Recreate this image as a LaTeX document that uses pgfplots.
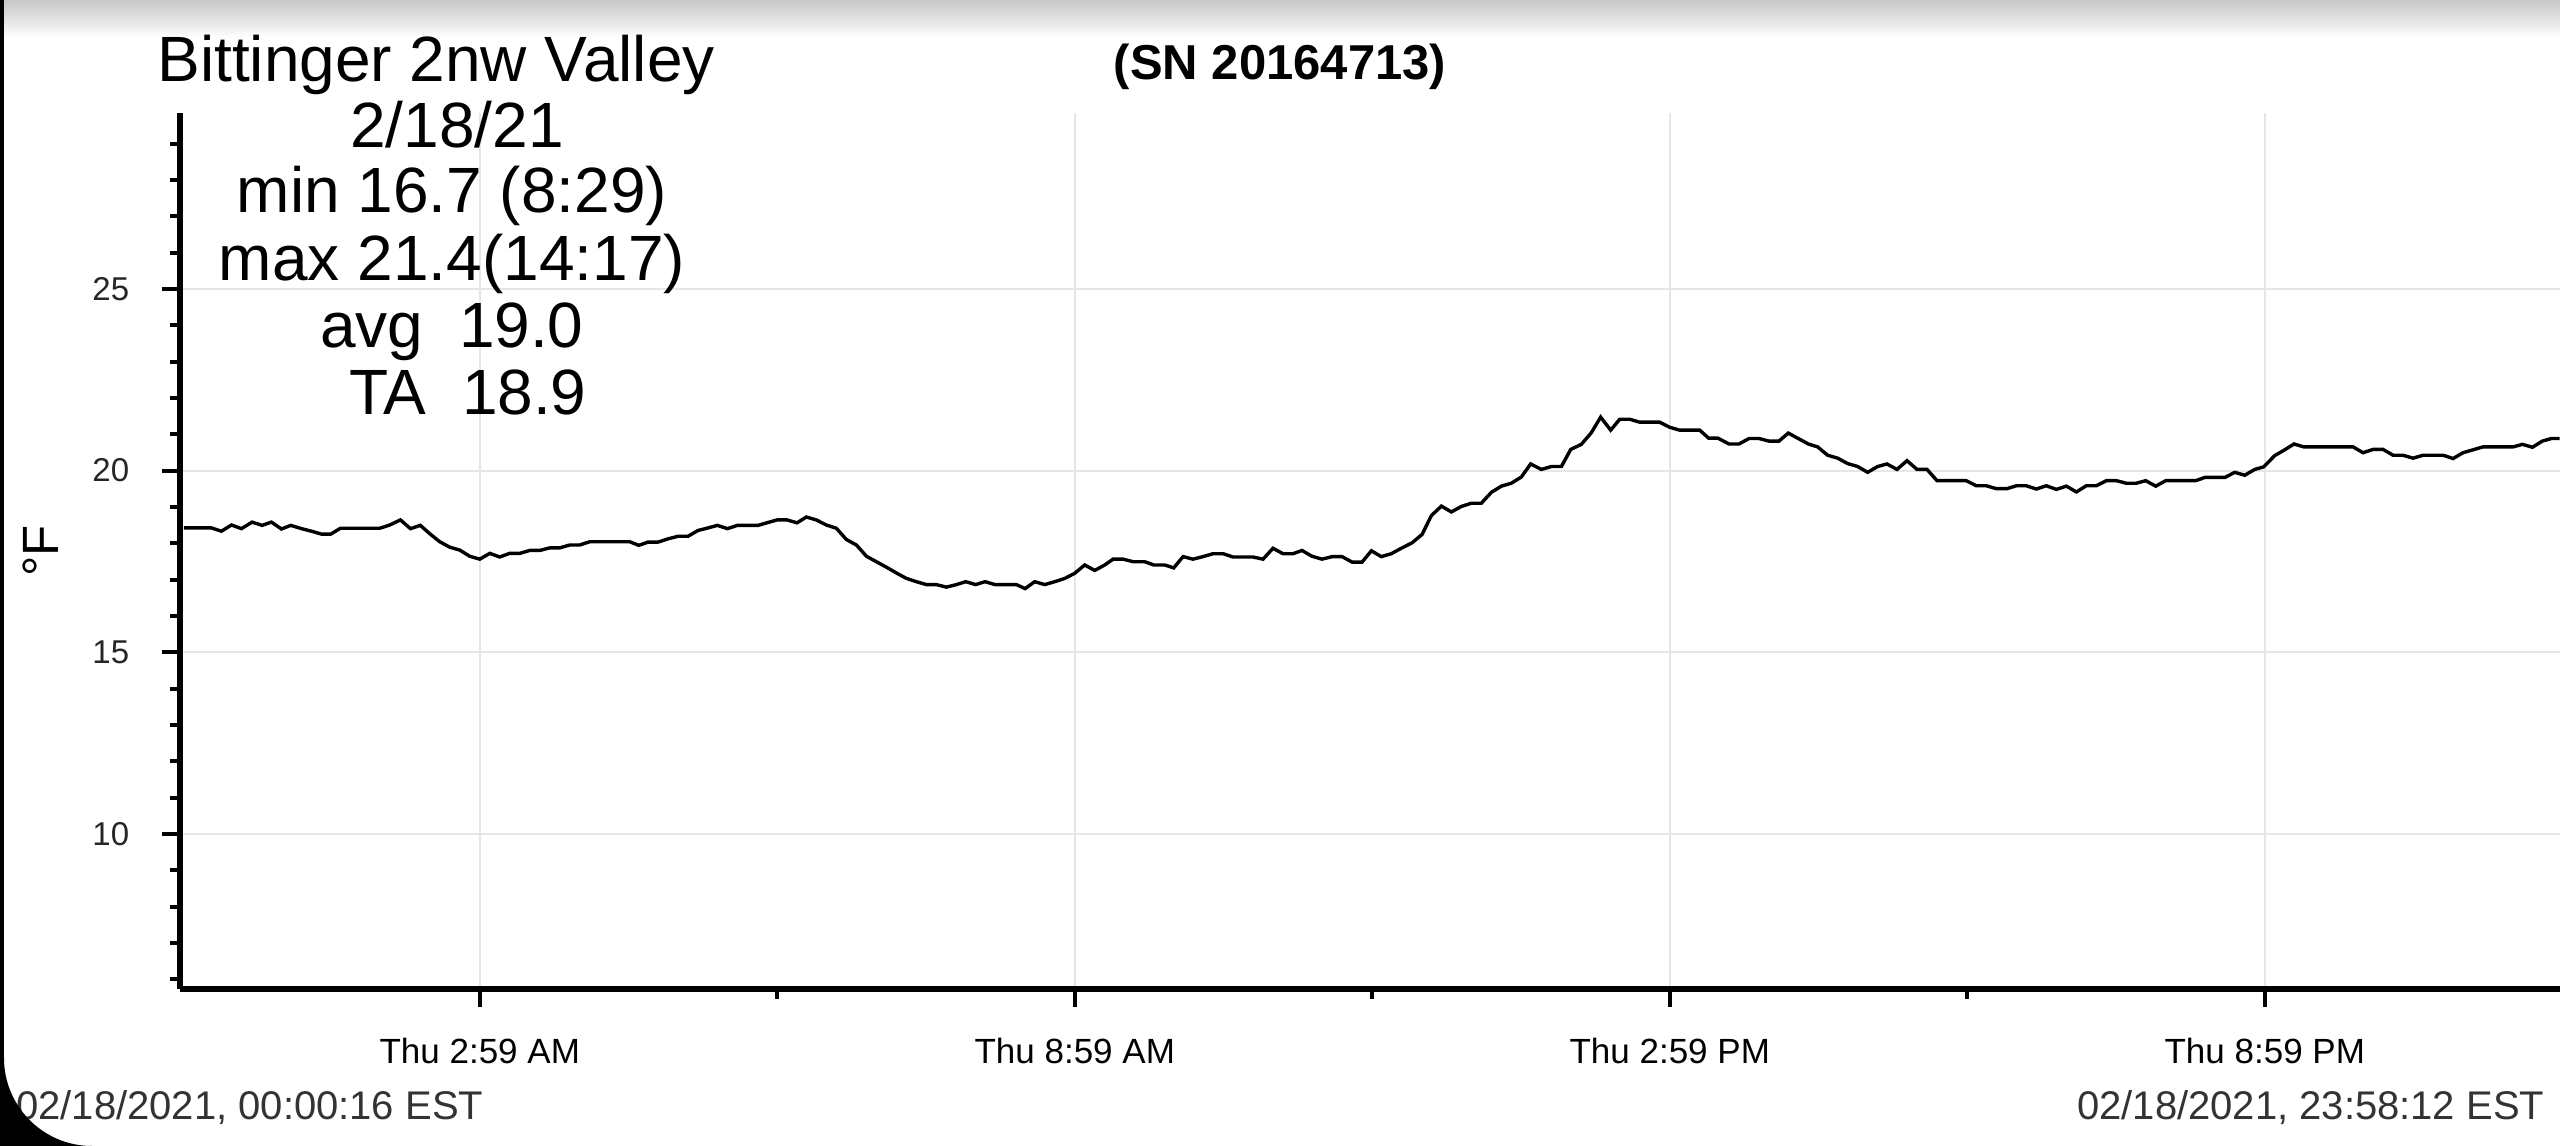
\documentclass[border=0pt]{standalone}
\usepackage{fontspec}
\setmainfont{Liberation Sans}
\usepackage{pgfplots}
\pgfplotsset{compat=1.18}
\definecolor{gridgray}{HTML}{E6E6E6}
\definecolor{stampgray}{HTML}{333333}
\pgfplotstableread{
h t
0.000 18.42
0.277 18.42
0.378 18.33
0.479 18.50
0.580 18.40
0.687 18.58
0.788 18.49
0.882 18.58
0.983 18.39
1.077 18.49
1.185 18.40
1.285 18.33
1.386 18.25
1.480 18.25
1.578 18.41
1.974 18.41
2.075 18.50
2.183 18.64
2.284 18.40
2.384 18.49
2.479 18.26
2.579 18.04
2.680 17.89
2.781 17.81
2.882 17.64
2.983 17.56
3.084 17.72
3.184 17.62
3.285 17.72
3.386 17.72
3.487 17.80
3.588 17.80
3.689 17.87
3.789 17.87
3.890 17.95
3.991 17.95
4.092 18.04
4.495 18.04
4.586 17.94
4.680 18.03
4.781 18.03
4.882 18.12
4.983 18.19
5.083 18.19
5.184 18.35
5.285 18.42
5.379 18.49
5.480 18.40
5.581 18.49
5.789 18.49
5.890 18.57
5.981 18.64
6.082 18.64
6.182 18.56
6.276 18.72
6.377 18.64
6.478 18.50
6.579 18.41
6.680 18.10
6.781 17.95
6.882 17.64
6.982 17.49
7.083 17.34
7.184 17.18
7.285 17.03
7.386 16.94
7.487 16.86
7.587 16.86
7.688 16.79
7.789 16.86
7.883 16.94
7.984 16.86
8.078 16.94
8.179 16.86
8.394 16.86
8.482 16.75
8.579 16.94
8.680 16.86
8.781 16.94
8.882 17.03
8.982 17.17
9.083 17.40
9.184 17.25
9.285 17.40
9.369 17.56
9.470 17.56
9.571 17.49
9.688 17.49
9.779 17.40
9.890 17.40
9.981 17.32
10.075 17.63
10.176 17.56
10.276 17.63
10.377 17.71
10.478 17.71
10.579 17.62
10.780 17.62
10.881 17.56
10.982 17.86
11.083 17.71
11.184 17.71
11.274 17.80
11.375 17.64
11.476 17.56
11.577 17.63
11.678 17.63
11.779 17.48
11.880 17.48
11.974 17.79
12.074 17.63
12.175 17.71
12.276 17.86
12.384 18.01
12.485 18.24
12.579 18.76
12.680 19.02
12.780 18.86
12.881 19.01
12.982 19.10
13.083 19.10
13.184 19.40
13.285 19.57
13.385 19.65
13.486 19.82
13.580 20.18
13.688 20.03
13.789 20.11
13.890 20.11
13.984 20.58
14.091 20.72
14.192 21.04
14.286 21.47
14.387 21.11
14.478 21.41
14.579 21.41
14.680 21.33
14.881 21.33
14.982 21.19
15.083 21.11
15.285 21.11
15.375 20.89
15.469 20.89
15.580 20.73
15.681 20.73
15.782 20.88
15.883 20.88
15.983 20.81
16.084 20.81
16.178 21.03
16.279 20.88
16.380 20.73
16.474 20.65
16.575 20.42
16.676 20.34
16.777 20.19
16.878 20.11
16.978 19.95
17.079 20.11
17.173 20.18
17.274 20.03
17.375 20.27
17.476 20.03
17.577 20.03
17.678 19.72
17.973 19.72
18.074 19.58
18.175 19.58
18.276 19.50
18.383 19.50
18.478 19.58
18.578 19.58
18.679 19.49
18.780 19.58
18.881 19.48
18.982 19.57
19.083 19.41
19.183 19.58
19.284 19.58
19.385 19.72
19.486 19.72
19.587 19.65
19.688 19.65
19.782 19.72
19.883 19.57
19.984 19.72
20.286 19.72
20.380 19.81
20.582 19.81
20.680 19.95
20.781 19.87
20.882 20.03
20.972 20.10
21.083 20.41
21.184 20.57
21.278 20.73
21.376 20.65
21.873 20.65
21.974 20.49
22.075 20.58
22.176 20.58
22.277 20.42
22.377 20.42
22.478 20.34
22.579 20.42
22.781 20.42
22.882 20.33
22.982 20.49
23.083 20.57
23.184 20.65
23.487 20.65
23.581 20.72
23.682 20.64
23.782 20.81
23.873 20.88
23.957 20.88
}\tempdata
\begin{document}
\begin{tikzpicture}[x=1pt,y=1pt]
\useasboundingbox (0,0) rectangle (640,286.5);
\fill[white] (0,0) rectangle (640,286.5);
\shade[top color=black!22, bottom color=white] (0,277) rectangle (640,286.5);
\begin{axis}[
  at={(45pt,39.25pt)}, anchor=south west,
  scale only axis, width=595pt, height=219pt,
  xmin=-0.04, xmax=23.96, ymin=5.73, ymax=29.84,
  axis lines*=left,
  x axis line style={line width=1.5pt},
  y axis line style={line width=1.5pt},
  tick align=outside,
  major tick length=4.5pt, minor tick length=2.5pt,
  every tick/.style={black, line width=1pt},
  xtick={2.983,8.983,14.983,20.983},
  xticklabels={Thu 2:59 AM,Thu 8:59 AM,Thu 2:59 PM,Thu 8:59 PM},
  minor xtick={5.983,11.983,17.983},
  ytick={10,15,20,25},
  minor ytick={6,7,8,9,11,12,13,14,16,17,18,19,21,22,23,24,26,27,28,29},
  grid=major,
  major grid style={gridgray, line width=0.5pt},
  /pgf/number format/assume math mode=true,
  xticklabel style={font=\fontsize{8.75}{10}\selectfont, anchor=north, inner sep=0pt, yshift=-7.5pt},
  yticklabel style={font=\fontsize{8.25}{10}\selectfont, text=black!85, anchor=east, inner sep=0pt, xshift=-8pt},
  ylabel={°F},
  ylabel style={at={(axis description cs:-0.0584,0.5)}, anchor=center, font=\fontsize{12.75}{14}\selectfont},
]
\addplot[black, line width=0.85pt, no marks] table[x=h, y=t] {\tempdata};
\end{axis}
% title block
\node[anchor=base, inner sep=0, font=\fontsize{16}{19}\selectfont] at (109,266) {Bittinger 2nw Valley};
\node[anchor=base, inner sep=0, font=\fontsize{16}{19}\selectfont] at (114.25,249.5) {2/18/21};
\node[anchor=base, inner sep=0, font=\fontsize{16}{19}\selectfont] at (113,233.25) {min 16.7 (8:29)};
\node[anchor=base, inner sep=0, font=\fontsize{16}{19}\selectfont] at (113,216.25) {max 21.4(14:17)};
\node[anchor=base, inner sep=0, font=\fontsize{16}{19}\selectfont] at (113,199.5) {avg\ \ 19.0};
\node[anchor=base, inner sep=0, font=\fontsize{16}{19}\selectfont] at (117,182.75) {TA\ \ 18.9};
\node[anchor=base, inner sep=0, font=\bfseries\fontsize{12.25}{14}\selectfont] at (320,266.5) {(SN 20164713)};
% time stamps
\node[anchor=base east, inner sep=0, text=stampgray, font=\fontsize{10}{12}\selectfont] at (121,6.5) {02/18/2021, 00:00:16 EST};
\node[anchor=base east, inner sep=0, text=stampgray, font=\fontsize{10}{12}\selectfont] at (636.25,6.5) {02/18/2021, 23:58:12 EST};
% screen frame
\fill[black] (0,0) rectangle (1,286.5);
\fill[black] (0,0) -- (0,22) -- (1,22) arc[start angle=180, end angle=270, radius=22] -- cycle;
\end{tikzpicture}
\end{document}
